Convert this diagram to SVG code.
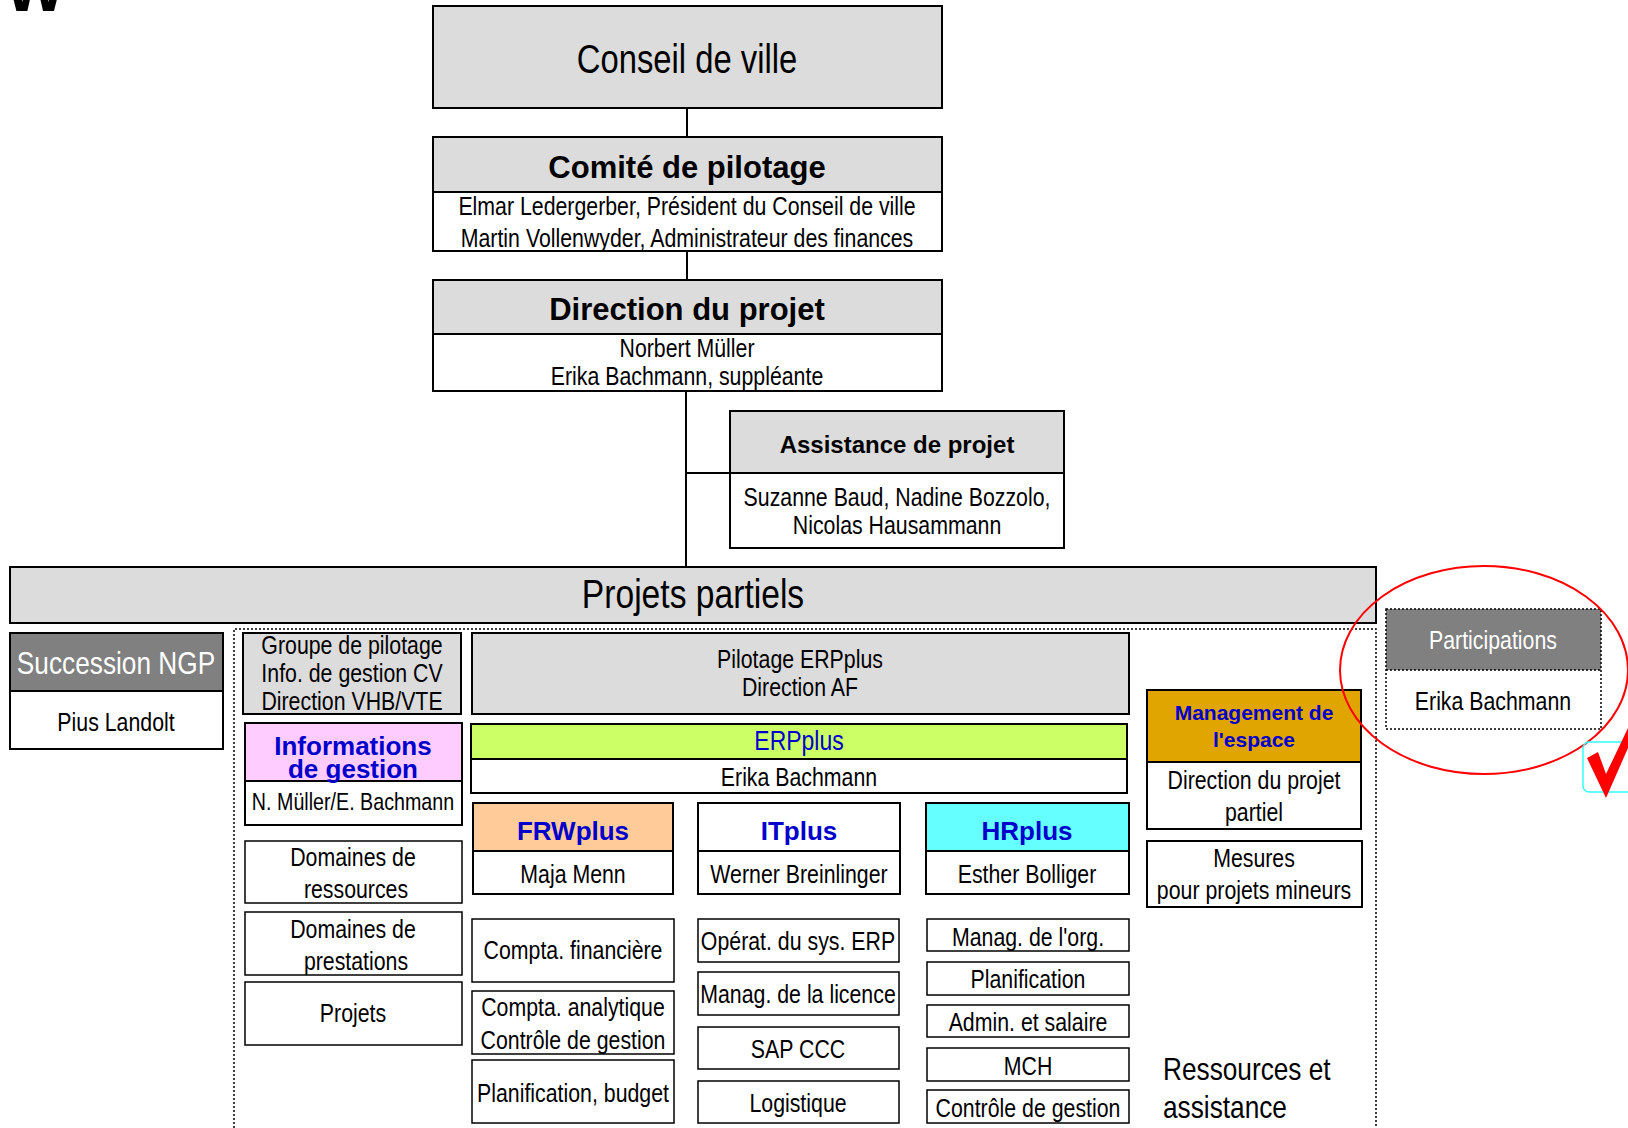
<svg xmlns="http://www.w3.org/2000/svg" width="1628" height="1128" viewBox="0 0 1628 1128">
<style>
  .n { font-family: "Liberation Sans", Arial, sans-serif; fill: #000; text-anchor: middle; font-size: 26px; }
  .b { font-family: "Liberation Sans", Arial, sans-serif; font-weight: bold; fill: #000; text-anchor: middle; }
  .blue { fill: #0000cc; }
  .white { fill: #fff; }
  .box { stroke: #000; stroke-width: 2; }
  .thin { stroke: #000; stroke-width: 1.5; fill: #fff; }
  .gray { fill: #dcdcdc; }
  .dark { fill: #808080; }
  .wht { fill: #fff; }
  .line { stroke: #000; stroke-width: 2; fill: none; }
  .dot { stroke: #000; stroke-width: 1.5; stroke-dasharray: 2 2; fill: none; }
</style>

<text x="5" y="11" class="b" style="text-anchor:start;font-size:64px">W</text>

<g id="connectors">
  <line class="line" x1="687" y1="108" x2="687" y2="137"/>
  <line class="line" x1="687" y1="251" x2="687" y2="280"/>
  <line class="line" x1="686" y1="391" x2="686" y2="566"/>
  <line class="line" x1="686" y1="473" x2="730" y2="473"/>
</g>

<g id="conseil">
  <rect class="box gray" x="433" y="6" width="509" height="102"/>
  <text class="n" transform="translate(687,73) scale(0.82,1)" style="font-size:40px">Conseil de ville</text>
</g>

<g id="comite">
  <rect class="box gray" x="433" y="137" width="509" height="55"/>
  <rect class="box wht" x="433" y="192" width="509" height="59"/>
  <text class="b" x="687" y="178" style="font-size:31px">Comité de pilotage</text>
  <text class="n" transform="translate(687,215) scale(0.82,1)">Elmar Ledergerber, Président du Conseil de ville</text>
  <text class="n" transform="translate(687,247) scale(0.82,1)">Martin Vollenwyder, Administrateur des finances</text>
</g>

<g id="direction">
  <rect class="box gray" x="433" y="280" width="509" height="54"/>
  <rect class="box wht" x="433" y="334" width="509" height="57"/>
  <text class="b" x="687" y="320" style="font-size:31px">Direction du projet</text>
  <text class="n" transform="translate(687,357) scale(0.82,1)">Norbert Müller</text>
  <text class="n" transform="translate(687,385) scale(0.82,1)">Erika Bachmann, suppléante</text>
</g>

<g id="assistance">
  <rect class="box gray" x="730" y="411" width="334" height="62"/>
  <rect class="box wht" x="730" y="473" width="334" height="75"/>
  <text class="b" x="897" y="453" style="font-size:24px">Assistance de projet</text>
  <text class="n" transform="translate(897,506) scale(0.82,1)">Suzanne Baud, Nadine Bozzolo,</text>
  <text class="n" transform="translate(897,534) scale(0.82,1)">Nicolas Hausammann</text>
</g>

<g id="projets-partiels">
  <rect class="box gray" x="10" y="567" width="1366" height="56"/>
  <text class="n" transform="translate(693,608) scale(0.82,1)" style="font-size:41px">Projets partiels</text>
</g>

<g id="zone">
  <path class="dot" d="M234,1128 V629 H1376 V1128"/>
</g>

<g id="succession">
  <rect class="box dark" x="10" y="633" width="213" height="58"/>
  <rect class="box wht" x="10" y="691" width="213" height="58"/>
  <text class="n white" transform="translate(116,674) scale(0.82,1)" style="font-size:32px">Succession NGP</text>
  <text class="n" transform="translate(116,731) scale(0.82,1)">Pius Landolt</text>
</g>

<g id="groupe-pilotage">
  <rect class="box gray" x="243" y="633" width="218" height="81"/>
  <text class="n" transform="translate(352,654) scale(0.82,1)">Groupe de pilotage</text>
  <text class="n" transform="translate(352,682) scale(0.82,1)">Info. de gestion CV</text>
  <text class="n" transform="translate(352,710) scale(0.82,1)">Direction VHB/VTE</text>
</g>

<g id="pilotage-erp">
  <rect class="box gray" x="472" y="633" width="657" height="81"/>
  <text class="n" transform="translate(800,668) scale(0.82,1)">Pilotage ERPplus</text>
  <text class="n" transform="translate(800,696) scale(0.82,1)">Direction AF</text>
</g>

<g id="infos-gestion">
  <rect class="box" fill="#ffccff" x="245" y="723" width="217" height="58"/>
  <rect class="box wht" x="245" y="781" width="217" height="44"/>
  <text class="b blue" x="353" y="755" style="font-size:26px">Informations</text>
  <text class="b blue" x="353" y="778" style="font-size:26px">de gestion</text>
  <text class="n" transform="translate(353,810) scale(0.82,1)" style="font-size:24px">N. Müller/E. Bachmann</text>
</g>

<g id="erpplus">
  <rect class="box" fill="#ccff66" x="471" y="724" width="656" height="35"/>
  <rect class="box wht" x="471" y="759" width="656" height="34"/>
  <text class="n blue" transform="translate(799,750) scale(0.82,1)" style="font-size:28px">ERPplus</text>
  <text class="n" transform="translate(799,786) scale(0.82,1)">Erika Bachmann</text>
</g>

<g id="frwplus">
  <rect class="box" fill="#ffcc99" x="473" y="803" width="200" height="48"/>
  <rect class="box wht" x="473" y="851" width="200" height="43"/>
  <text class="b blue" x="573" y="840" style="font-size:26px">FRWplus</text>
  <text class="n" transform="translate(573,883) scale(0.82,1)">Maja Menn</text>
</g>

<g id="itplus">
  <rect class="box wht" x="698" y="803" width="202" height="48"/>
  <rect class="box wht" x="698" y="851" width="202" height="43"/>
  <text class="b blue" x="799" y="840" style="font-size:26px">ITplus</text>
  <text class="n" transform="translate(799,883) scale(0.82,1)">Werner Breinlinger</text>
</g>

<g id="hrplus">
  <rect class="box" fill="#66ffff" x="926" y="803" width="203" height="48"/>
  <rect class="box wht" x="926" y="851" width="203" height="43"/>
  <text class="b blue" x="1027" y="840" style="font-size:26px">HRplus</text>
  <text class="n" transform="translate(1027,883) scale(0.82,1)">Esther Bolliger</text>
</g>

<g id="management">
  <rect class="box" fill="#e0a500" x="1147" y="690" width="214" height="72"/>
  <rect class="box wht" x="1147" y="762" width="214" height="67"/>
  <text class="b blue" x="1254" y="720" style="font-size:21px">Management de</text>
  <text class="b blue" x="1254" y="747" style="font-size:21px">l'espace</text>
  <text class="n" transform="translate(1254,789) scale(0.82,1)">Direction du projet</text>
  <text class="n" transform="translate(1254,821) scale(0.82,1)">partiel</text>
</g>

<g id="mesures">
  <rect class="box wht" x="1147" y="841" width="215" height="66"/>
  <text class="n" transform="translate(1254,867) scale(0.82,1)">Mesures</text>
  <text class="n" transform="translate(1254,899) scale(0.82,1)">pour projets mineurs</text>
</g>

<g id="participations">
  <rect fill="#808080" x="1386" y="609" width="215" height="61"/>
  <rect class="dot" x="1386" y="609" width="215" height="120"/>
  <line class="dot" x1="1386" y1="670" x2="1601" y2="670"/>
  <text class="n white" transform="translate(1493,649) scale(0.82,1)">Participations</text>
  <text class="n" transform="translate(1493,710) scale(0.82,1)">Erika Bachmann</text>
</g>

<g id="annotation">
  <ellipse cx="1484" cy="670" rx="144" ry="104" fill="none" stroke="#ff0000" stroke-width="2"/>
  <rect x="1583" y="742" width="60" height="50" rx="6" fill="none" stroke="#33ffff" stroke-width="1.5"/>
  <path d="M1587,758 L1598,752 L1606,774 L1628,728 L1628,748 L1606,798 Z" fill="#ff0000"/>
</g>

<g id="domaines-ressources">
  <rect class="thin" x="245" y="841" width="217" height="62"/>
  <text class="n" transform="translate(353,866) scale(0.82,1)">Domaines de</text>
  <text class="n" transform="translate(356,898) scale(0.82,1)">ressources</text>
</g>
<g id="domaines-prestations">
  <rect class="thin" x="245" y="912" width="217" height="63"/>
  <text class="n" transform="translate(353,938) scale(0.82,1)">Domaines de</text>
  <text class="n" transform="translate(356,970) scale(0.82,1)">prestations</text>
</g>
<g id="projets">
  <rect class="thin" x="245" y="982" width="217" height="63"/>
  <text class="n" transform="translate(353,1022) scale(0.82,1)">Projets</text>
</g>

<g id="compta-fin">
  <rect class="thin" x="472" y="919" width="202" height="63"/>
  <text class="n" transform="translate(573,959) scale(0.82,1)">Compta. financière</text>
</g>
<g id="compta-ana">
  <rect class="thin" x="472" y="991" width="202" height="63"/>
  <text class="n" transform="translate(573,1016) scale(0.82,1)">Compta. analytique</text>
  <text class="n" transform="translate(573,1049) scale(0.82,1)">Contrôle de gestion</text>
</g>
<g id="planif-budget">
  <rect class="thin" x="472" y="1060" width="202" height="63"/>
  <text class="n" transform="translate(573,1102) scale(0.82,1)">Planification, budget</text>
</g>

<g id="operat">
  <rect class="thin" x="698" y="919" width="201" height="43"/>
  <text class="n" transform="translate(798,950) scale(0.82,1)">Opérat. du sys. ERP</text>
</g>
<g id="licence">
  <rect class="thin" x="698" y="972" width="201" height="43"/>
  <text class="n" transform="translate(798,1003) scale(0.82,1)">Manag. de la licence</text>
</g>
<g id="sapccc">
  <rect class="thin" x="698" y="1027" width="201" height="42"/>
  <text class="n" transform="translate(798,1058) scale(0.82,1)">SAP CCC</text>
</g>
<g id="logistique">
  <rect class="thin" x="698" y="1081" width="201" height="42"/>
  <text class="n" transform="translate(798,1112) scale(0.82,1)">Logistique</text>
</g>

<g id="manag-org">
  <rect class="thin" x="927" y="919" width="202" height="32"/>
  <text class="n" transform="translate(1028,946) scale(0.82,1)">Manag. de l'org.</text>
</g>
<g id="planification">
  <rect class="thin" x="927" y="962" width="202" height="33"/>
  <text class="n" transform="translate(1028,988) scale(0.82,1)">Planification</text>
</g>
<g id="admin">
  <rect class="thin" x="927" y="1005" width="202" height="32"/>
  <text class="n" transform="translate(1028,1031) scale(0.82,1)">Admin. et salaire</text>
</g>
<g id="mch">
  <rect class="thin" x="927" y="1048" width="202" height="33"/>
  <text class="n" transform="translate(1028,1075) scale(0.82,1)">MCH</text>
</g>
<g id="controle">
  <rect class="thin" x="927" y="1090" width="202" height="33"/>
  <text class="n" transform="translate(1028,1117) scale(0.82,1)">Contrôle de gestion</text>
</g>

<g id="ressources-assistance">
  <text class="n" transform="translate(1163,1080) scale(0.82,1)" style="font-size:32px;text-anchor:start">Ressources et</text>
  <text class="n" transform="translate(1163,1118) scale(0.82,1)" style="font-size:32px;text-anchor:start">assistance</text>
</g>
</svg>
